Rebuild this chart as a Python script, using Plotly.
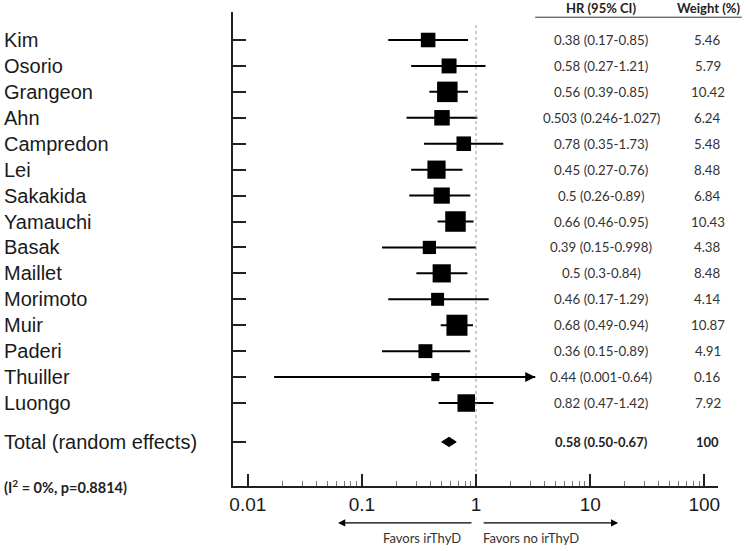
import numpy as np
import plotly.graph_objects as go

# forest plot data
studies = ["Kim", "Osorio", "Grangeon", "Ahn", "Campredon", "Lei", "Sakakida", "Yamauchi",
           "Basak", "Maillet", "Morimoto", "Muir", "Paderi", "Thuiller", "Luongo"]
hr = [0.38, 0.58, 0.56, 0.503, 0.78, 0.45, 0.5, 0.66, 0.39, 0.5, 0.46, 0.68, 0.36, 0.44, 0.82]
ci_lo = [0.17, 0.27, 0.39, 0.246, 0.35, 0.27, 0.26, 0.46, 0.15, 0.3, 0.17, 0.49, 0.15, 0.017, 0.47]
ci_hi = [0.85, 1.21, 0.85, 1.027, 1.73, 0.76, 0.89, 0.95, 0.998, 0.84, 1.29, 0.94, 0.89, 3.3, 1.42]
weight = [5.46, 5.79, 10.42, 6.24, 5.48, 8.48, 6.84, 10.43, 4.38, 8.48, 4.14, 10.87, 4.91, 0.16, 7.92]
hr_text = ["0.38 (0.17-0.85)", "0.58 (0.27-1.21)", "0.56 (0.39-0.85)", "0.503 (0.246-1.027)",
           "0.78 (0.35-1.73)", "0.45 (0.27-0.76)", "0.5 (0.26-0.89)", "0.66 (0.46-0.95)",
           "0.39 (0.15-0.998)", "0.5 (0.3-0.84)", "0.46 (0.17-1.29)", "0.68 (0.49-0.94)",
           "0.36 (0.15-0.89)", "0.44 (0.001-0.64)", "0.82 (0.47-1.42)"]
weight_text = ["5.46", "5.79", "10.42", "6.24", "5.48", "8.48", "6.84", "10.43", "4.38", "8.48",
               "4.14", "10.87", "4.91", "0.16", "7.92"]
clipped = ["Thuiller"]   # CI drawn with an arrow

total_label = "Total (random effects)"
total_hr, total_lo, total_hi = 0.58, 0.50, 0.67
total_text, total_weight = "0.58 (0.50-0.67)", "100"
het_text = "(I<sup>2</sup> = 0%, p=0.8814)"

xticks = [0.01, 0.1, 1, 10, 100]
xticklabels = ["0.01", "0.1", "1", "10", "100"]

rows = list(range(1, len(studies) + 1))
total_row = len(studies) + 1.5

fig = go.Figure()

# confidence interval lines
xs, ys = [], []
for r, lo, hi in zip(rows, ci_lo, ci_hi):
    xs += [lo, hi, None]
    ys += [r, r, None]
fig.add_trace(go.Scatter(x=xs, y=ys, mode="lines", line=dict(color="black", width=2),
                         hoverinfo="skip", showlegend=False))

# null line
fig.add_trace(go.Scatter(x=[1, 1], y=[0.42, 18.2], mode="lines",
                         line=dict(color="#999999", width=1, dash="dot"),
                         hoverinfo="skip", showlegend=False))

# study squares sized by weight
fig.add_trace(go.Scatter(x=hr, y=rows, mode="markers",
                         marker=dict(symbol="square", color="black", opacity=1,
                                     size=[8 + 1.2 * w for w in weight], line=dict(width=0)),
                         showlegend=False))

# pooled diamond
fig.add_trace(go.Scatter(x=[total_lo, total_hr, total_hi, total_hr, total_lo],
                         y=[total_row, total_row - 0.18, total_row, total_row + 0.18, total_row],
                         mode="lines", fill="toself", fillcolor="black",
                         line=dict(color="black", width=1), showlegend=False))

annos = []
lab_font = dict(family="Arial, Liberation Sans", size=20, color="#1a1a1a")
col_font = dict(family="Lato", size=13.3, color="#333333")
bold_font = dict(family="Lato", size=13, color="#222222", weight="bold")

lab_x = -0.476
wcol_x = 0.979
hcol_x = 0.759

for r, name, t, w in zip(rows, studies, hr_text, weight_text):
    annos.append(dict(x=lab_x, y=r, xref="paper", yref="y", text=name, showarrow=False,
                      xanchor="left", font=lab_font))
    annos.append(dict(x=hcol_x, y=r, xref="paper", yref="y", text=t, showarrow=False,
                      xanchor="center", font=col_font))
    annos.append(dict(x=wcol_x, y=r, xref="paper", yref="y", text=w, showarrow=False,
                      xanchor="center", font=col_font))

annos.append(dict(x=lab_x, y=total_row, xref="paper", yref="y", text=total_label,
                  showarrow=False, xanchor="left", font=lab_font))
annos.append(dict(x=hcol_x, y=total_row, xref="paper", yref="y", text=total_text,
                  showarrow=False, xanchor="center", font=bold_font))
annos.append(dict(x=wcol_x, y=total_row, xref="paper", yref="y", text=total_weight,
                  showarrow=False, xanchor="center", font=bold_font))

# headers
annos.append(dict(x=hcol_x, y=1.0, xref="paper", yref="paper", text="HR (95% CI)",
                  showarrow=False, xanchor="center", yanchor="bottom", yshift=-6, font=bold_font))
annos.append(dict(x=1.049, y=1.0, xref="paper", yref="paper", text="Weight (%)",
                  showarrow=False, xanchor="right", yanchor="bottom", yshift=-6, font=bold_font))

# heterogeneity
annos.append(dict(x=lab_x, y=0.0, xref="paper", yref="paper", text=het_text,
                  showarrow=False, xanchor="left", yanchor="middle",
                  font=dict(family="Lato", size=14.5, color="#222222", weight="bold")))

# arrow for clipped CI
for name in clipped:
    i = studies.index(name)
    annos.append(dict(x=np.log10(ci_hi[i]), y=rows[i], xref="x", yref="y",
                      ax=np.log10(ci_hi[i]) - 0.3, ay=0, axref="x", ayref="pixel",
                      showarrow=True, arrowhead=2, arrowsize=1, arrowwidth=2,
                      arrowcolor="black", text=""))

# favors arrows
annos.append(dict(x=np.log10(0.0617), y=-0.078, xref="x", yref="paper",
                  ax=np.log10(0.94), ay=0, axref="x", ayref="pixel", showarrow=True,
                  arrowhead=2, arrowsize=1.2, arrowwidth=1.2, arrowcolor="black", text=""))
annos.append(dict(x=np.log10(17.6), y=-0.078, xref="x", yref="paper",
                  ax=np.log10(1.13), ay=0, axref="x", ayref="pixel", showarrow=True,
                  arrowhead=2, arrowsize=1.2, arrowwidth=1.2, arrowcolor="black", text=""))
annos.append(dict(x=np.log10(0.77), y=-0.11, xref="x", yref="paper", text="Favors irThyD",
                  showarrow=False, xanchor="right", yanchor="middle",
                  font=dict(family="Lato", size=13, color="#333333")))
annos.append(dict(x=np.log10(1.1), y=-0.11, xref="x", yref="paper", text="Favors no irThyD",
                  showarrow=False, xanchor="left", yanchor="middle",
                  font=dict(family="Lato", size=13, color="#333333")))

minor_vals = [m * 10.0 ** e for e in range(-2, 2) for m in range(2, 10)]

fig.update_layout(
    width=749, height=551,
    margin=dict(l=233, r=31, t=12, b=65),
    plot_bgcolor="white", paper_bgcolor="white",
    annotations=annos,
    shapes=[dict(type="line", xref="paper", yref="paper", x0=0.623, x1=1.049, y0=0.989, y1=0.989,
                 line=dict(color="#333333", width=1))],
    xaxis=dict(type="log", range=[-2.13, 2.12], tickvals=xticks, ticktext=xticklabels,
               ticks="inside", ticklen=12, tickwidth=2, tickcolor="#222222",
               showline=True, linecolor="#222222", linewidth=2, showgrid=False, zeroline=False,
               tickfont=dict(family="Arial, Liberation Sans", size=19, color="#1a1a1a"),
               minor=dict(tickvals=minor_vals, ticks="inside", ticklen=5, tickwidth=1,
                          tickcolor="#777777", showgrid=False)),
    yaxis=dict(range=[18.2, -0.08], tickvals=rows + [total_row], showticklabels=False,
               ticks="inside", ticklen=13, tickwidth=2, tickcolor="#222222",
               showline=True, linecolor="#222222", linewidth=2, showgrid=False, zeroline=False),
)

# drop the browser's default 8px body margin so the figure sits at the page corner
fig.write_html("out.html", config={"displayModeBar": False},
               post_script="document.body.style.margin='0';")
